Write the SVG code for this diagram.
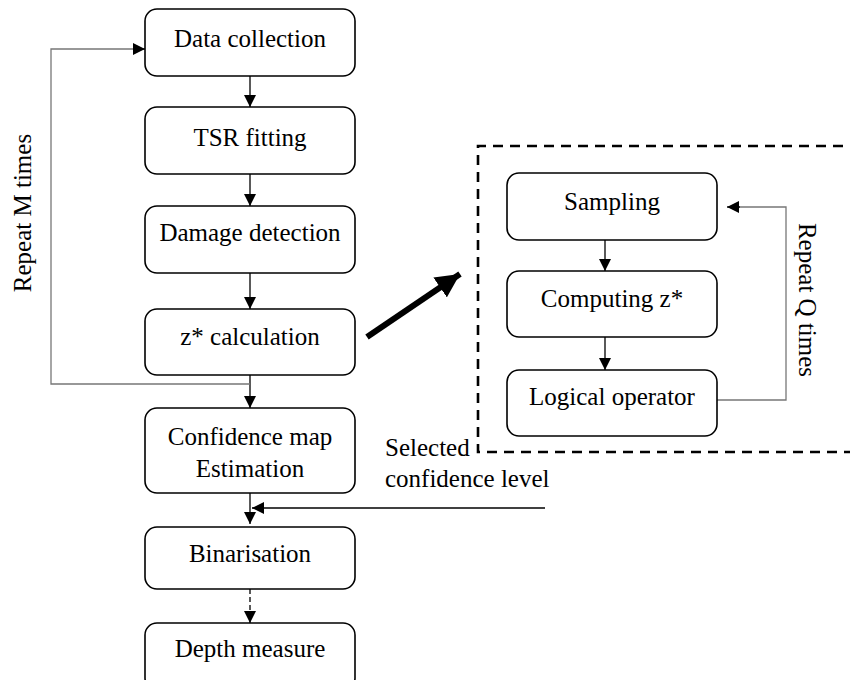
<svg xmlns="http://www.w3.org/2000/svg" width="850" height="680" viewBox="0 0 850 680" font-family="Liberation Serif, Tinos, DejaVu Serif, serif">
<defs>
<style>
.box{fill:#fff;stroke:#000;stroke-width:1.6}
.t{font-size:25px;fill:#000;text-anchor:middle}
.tl{font-size:25px;fill:#000}
.ln{fill:none;stroke:#000;stroke-width:1.3}
.gl{fill:none;stroke:#777;stroke-width:1.3}
</style>
<marker id="ah" viewBox="0 0 12 12" refX="12" refY="6" markerWidth="12" markerHeight="12" markerUnits="userSpaceOnUse" orient="auto">
<path d="M0,0 L12,6 L0,12 Z" fill="#000"/>
</marker>
<marker id="big" viewBox="0 0 10 10" refX="10" refY="5" markerWidth="4" markerHeight="4" orient="auto">
<path d="M0,0 L10,5 L0,10 Z" fill="#000"/>
</marker>
</defs>
<rect width="850" height="680" fill="#fff"/>

<g id="connectors">
<line class="ln" x1="250" y1="76" x2="250" y2="107" marker-end="url(#ah)"/>
<line class="ln" x1="250" y1="174" x2="250" y2="206" marker-end="url(#ah)"/>
<line class="ln" x1="250" y1="273" x2="250" y2="309" marker-end="url(#ah)"/>
<line class="ln" x1="250" y1="375" x2="250" y2="408" marker-end="url(#ah)"/>
<polyline class="gl" points="250,384 51,384 51,49 140,49"/>
<line class="ln" x1="136" y1="49" x2="145" y2="49" marker-end="url(#ah)"/>
<line class="ln" x1="250" y1="493" x2="250" y2="524" marker-end="url(#ah)"/>
<line class="ln" x1="545" y1="508" x2="252" y2="508" marker-end="url(#ah)"/>
<line class="ln" x1="250" y1="589" x2="250" y2="623" stroke-dasharray="5 3" marker-end="url(#ah)"/>
<line class="ln" x1="605" y1="240" x2="605" y2="271" marker-end="url(#ah)"/>
<line class="ln" x1="605" y1="337" x2="605" y2="370" marker-end="url(#ah)"/>
<polyline class="gl" points="717,400 786,400 786,207 735,207"/>
<line class="ln" x1="740" y1="207" x2="727" y2="207" marker-end="url(#ah)"/>
<line x1="367" y1="337" x2="460" y2="274" stroke="#000" stroke-width="6" marker-end="url(#big)"/>
</g>

<g id="dashed-group">
<polyline points="860,146 478,146 478,452 860,452" fill="none" stroke="#000" stroke-width="2.6" stroke-dasharray="10 7"/>
</g>

<g id="n1"><rect class="box" x="145" y="9" width="210" height="67" rx="12"/><text class="t" x="250" y="47">Data collection</text></g>
<g id="n2"><rect class="box" x="145" y="107" width="210" height="67" rx="12"/><text class="t" x="250" y="146">TSR fitting</text></g>
<g id="n3"><rect class="box" x="145" y="206" width="210" height="67" rx="12"/><text class="t" x="250" y="241">Damage detection</text></g>
<g id="n4"><rect class="box" x="145" y="309" width="210" height="66" rx="12"/><text class="t" x="250" y="345">z* calculation</text></g>
<g id="n5"><rect class="box" x="145" y="408" width="210" height="85" rx="12"/><text class="t" x="250" y="445">Confidence map</text><text class="t" x="250" y="477">Estimation</text></g>
<g id="n6"><rect class="box" x="145" y="527" width="210" height="62" rx="12"/><text class="t" x="250" y="562">Binarisation</text></g>
<g id="n7"><rect class="box" x="145" y="623" width="210" height="67" rx="12"/><text class="t" x="250" y="657">Depth measure</text></g>

<g id="s1"><rect class="box" x="507" y="173" width="210" height="67" rx="12"/><text class="t" x="612" y="210">Sampling</text></g>
<g id="s2"><rect class="box" x="507" y="271" width="210" height="66" rx="12"/><text class="t" x="612" y="307">Computing z*</text></g>
<g id="s3"><rect class="box" x="507" y="370" width="210" height="66" rx="12"/><text class="t" x="612" y="405">Logical operator</text></g>

<g id="labels">
<text class="t" transform="translate(31,213) rotate(-90)">Repeat M times</text>
<text class="t" transform="translate(799,300) rotate(90)">Repeat Q times</text>
<text class="tl" x="385" y="456">Selected</text>
<text class="tl" x="385" y="487">confidence level</text>
</g>
</svg>
